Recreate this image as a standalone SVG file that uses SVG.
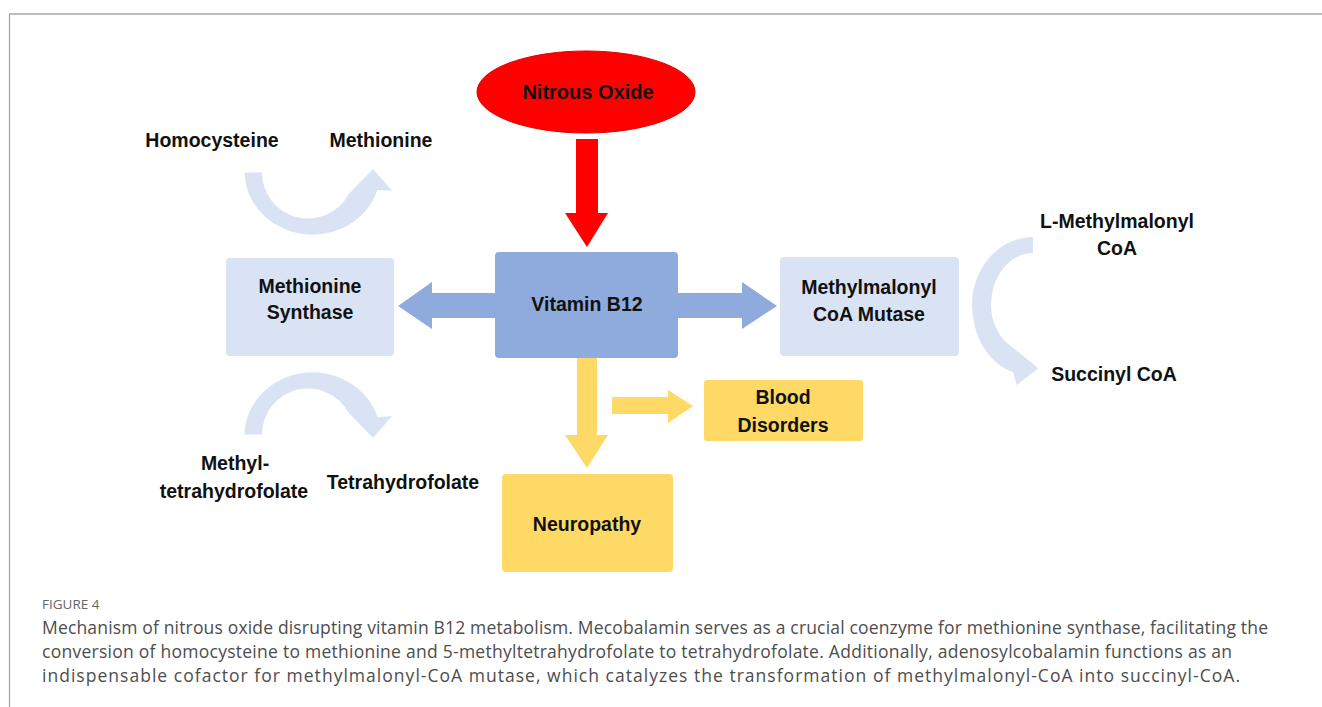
<svg xmlns="http://www.w3.org/2000/svg" width="1322" height="707" viewBox="0 0 1322 707">
<style>
.lbl{font-family:"Liberation Sans",Arial,sans-serif;font-weight:bold;font-size:19.5px;fill:#111;text-anchor:middle}
.cap{font-family:"Open Sans","Liberation Sans",sans-serif;font-size:17.5px;fill:#4d4d4d}
.light{fill:#dae3f3}
.blue{fill:#8faadc}
.yel{fill:#ffd966}
</style>
<defs>
<path id="bend" d="M244.5,172.6 A68,63.4 0 0 0 377.4,190.1 L392,190.7 L373,169 L348.6,194.2 A46,46 0 0 1 262,172.6 Z"/>
</defs>
<rect x="0" y="0" width="1322" height="707" fill="#ffffff"/>
<g id="frame">
<line x1="9" y1="14" x2="1322" y2="14" stroke="#bdbdbd" stroke-width="2"/>
<line x1="9.5" y1="14" x2="9.5" y2="707" stroke="#a0a0a0" stroke-width="1.2"/>
</g>
<g id="connectors">
<polygon class="blue" points="398,306 432,282 432,293 500,293 500,318 432,318 432,329"/>
<polygon class="blue" points="777,306 742,282 742,293 675,293 675,318 742,318 742,329"/>
<polygon fill="#ff0000" points="576,139 598,139 598,213 608,213 587,247 565,213 576,213"/>
<polygon class="yel" points="577,358 597,358 597,435 608,435 587,468 565,435 577,435"/>
<polygon class="yel" points="612,397 668,397 668,390 693,406 668,423 668,414 612,414"/>
<use id="arc-hcy" href="#bend" class="light"/>
<use id="arc-thf" href="#bend" class="light" transform="matrix(1,0,0,-1,0,607)"/>
<path id="arc-mma" class="light" d="M1033,237 A61,68 0 0 0 972,305 A55,69.3 0 0 0 1013,372 L1016.7,385 L1038.3,368.3 L1011.7,346.7 A42,48.4 0 0 1 991,305 A42,52 0 0 1 1033,253 Z"/>
</g>
<g id="nitrous-oxide">
<ellipse cx="586" cy="92" rx="109" ry="41" fill="#ff0000" stroke="#e60000" stroke-width="1"/>
<text class="lbl" x="588" y="99" style="font-size:20px">Nitrous Oxide</text>
</g>
<g id="vitamin-b12">
<rect x="495" y="252" width="183" height="106" rx="4" class="blue"/>
<text class="lbl" x="587" y="311">Vitamin B12</text>
</g>
<g id="methionine-synthase">
<rect x="226" y="258" width="168" height="98" rx="4" class="light"/>
<text class="lbl" x="310" y="293">Methionine</text>
<text class="lbl" x="310" y="319">Synthase</text>
</g>
<g id="methylmalonyl-coa-mutase">
<rect x="780" y="257" width="179" height="99" rx="4" class="light"/>
<text class="lbl" x="869" y="294">Methylmalonyl</text>
<text class="lbl" x="869" y="321">CoA Mutase</text>
</g>
<g id="blood-disorders">
<rect x="704" y="380" width="159" height="61" rx="3" class="yel"/>
<text class="lbl" x="783" y="404">Blood</text>
<text class="lbl" x="783" y="432">Disorders</text>
</g>
<g id="neuropathy">
<rect x="502" y="474" width="171" height="98" rx="4" class="yel"/>
<text class="lbl" x="587" y="531">Neuropathy</text>
</g>
<g id="labels">
<text class="lbl" x="212" y="147">Homocysteine</text>
<text class="lbl" x="381" y="147">Methionine</text>
<text class="lbl" x="1117" y="228">L-Methylmalonyl</text>
<text class="lbl" x="1117" y="255">CoA</text>
<text class="lbl" x="1114" y="381">Succinyl CoA</text>
<text class="lbl" x="235" y="470">Methyl-</text>
<text class="lbl" x="234" y="498">tetrahydrofolate</text>
<text class="lbl" x="403" y="489">Tetrahydrofolate</text>
</g>
<g id="caption">
<text x="42" y="609" style="font-family:'Open Sans','Liberation Sans',sans-serif;font-size:13.5px;fill:#666">FIGURE 4</text>
<text class="cap" x="42" y="634" textLength="1226">Mechanism of nitrous oxide disrupting vitamin B12 metabolism. Mecobalamin serves as a crucial coenzyme for methionine synthase, facilitating the</text>
<text class="cap" x="42" y="658" textLength="1190">conversion of homocysteine to methionine and 5-methyltetrahydrofolate to tetrahydrofolate. Additionally, adenosylcobalamin functions as an</text>
<text class="cap" x="42" y="682" textLength="1198">indispensable cofactor for methylmalonyl-CoA mutase, which catalyzes the transformation of methylmalonyl-CoA into succinyl-CoA.</text>
</g>
</svg>
